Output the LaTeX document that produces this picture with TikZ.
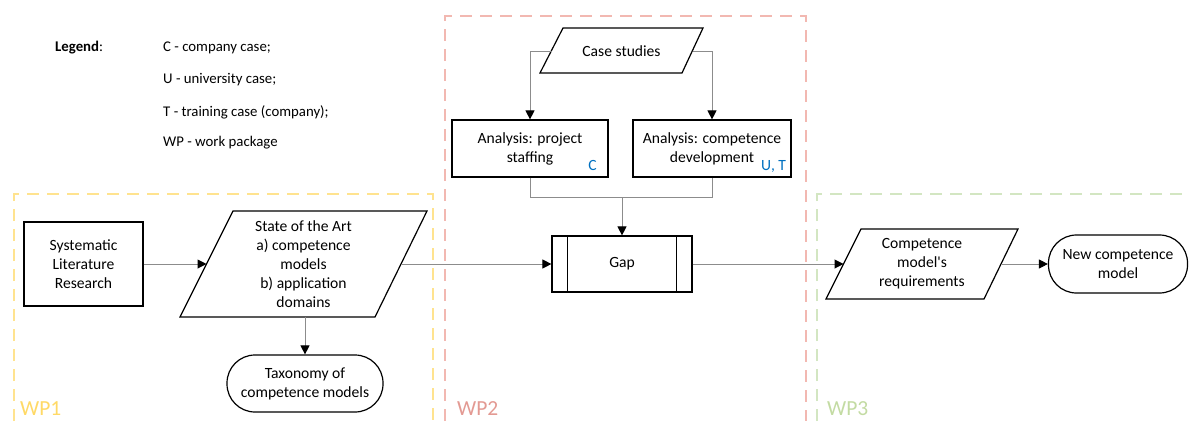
\documentclass[tikz,border=0pt]{standalone}
\usepackage{fontspec}
\setmainfont{Carlito}[Ligatures=TeXOff]
\usetikzlibrary{arrows.meta,calc}
\definecolor{wpone}{HTML}{FFE38F}
\definecolor{wponet}{HTML}{FFD966}
\definecolor{wptwo}{HTML}{F2B8B1}
\definecolor{wptwot}{HTML}{E39A93}
\definecolor{wpthree}{HTML}{D3E6C2}
\definecolor{wpthreet}{HTML}{C3DBA3}
\definecolor{lblblue}{HTML}{0070C0}
\definecolor{conn}{HTML}{8C8C8C}
\tikzset{
  txt/.style={font=\fontsize{15.6}{19}\selectfont, align=center, inner sep=0pt},
  procbox/.style={txt, draw=black, line width=1.2pt, rectangle},
  termbox/.style={txt, draw=black, line width=1.2pt, rectangle, rounded corners=28pt},
  parashape/.style={draw=black, line width=1.2pt, line join=miter},
  conline/.style={draw=conn, line width=1pt},
  conarrow/.style={conline, -{Triangle[length=9pt,width=9pt,color=black,fill=black]}},
  wpbox/.style={line width=1.5pt, dash pattern=on 12pt off 8pt},
  wplabel/.style={font=\fontsize{21.5}{24}\selectfont, inner sep=0pt, anchor=base west},
  legtxt/.style={font=\fontsize{14.8}{18}\selectfont, inner sep=0pt, anchor=west},
  bluelbl/.style={font=\fontsize{15.6}{19}\selectfont, text=lblblue, inner sep=0pt, anchor=base}
}
\begin{document}
\begin{tikzpicture}[x=1pt,y=-1pt]
\useasboundingbox (0,0) rectangle (1189,421);
% work package frames
\draw[wpbox, draw=wpone] (14,421) -- (14,194) -- (433,194) -- (433,421);
\draw[wpbox, draw=wptwo] (445,421) -- (445,16) -- (806,16) -- (806,421);
\draw[wpbox, draw=wpthree] (817,421) -- (817,194) -- (1189,194);
\node[wplabel, text=wponet] (wp1) at (20,415) {WP1};
\node[wplabel, text=wptwot] (wp2) at (457,415) {WP2};
\node[wplabel, text=wpthreet] (wp3) at (827,415) {WP3};
% legend
\node[legtxt] (leg) at (55,48) {\textbf{Legend}:};
\node[legtxt] (lc) at (163,48) {C - company case;};
\node[legtxt] (lu) at (163,80) {U - university case;};
\node[legtxt] (lt) at (163,112) {T - training case (company);};
\node[legtxt] (lw) at (163,143) {WP - work package};
% case studies (parallelogram)
\draw[parashape] (563,28) -- (703,28) -- (682,73) -- (540,73) -- cycle;
\node[txt] (cs) at (621.5,51) {Case studies};
\coordinate (csw) at (551.5,51);
\coordinate (cse) at (692.5,51);
% analysis boxes
\node[procbox, minimum width=156pt, minimum height=57pt] (ana1) at (530,148.5) {Analysis: project\\staffing};
\node[procbox, minimum width=158pt, minimum height=57pt] (ana2) at (712,148.5) {Analysis: competence\\development};
\node[bluelbl] (lblc) at ($(ana1.south east)+(-16,-7)$) {C};
\node[bluelbl] (lblut) at ($(ana2.south east)+(-18,-7)$) {U, T};
% gap
\node[procbox, minimum width=140pt, minimum height=56pt] (gap) at (622,264) {Gap};
\draw[line width=1.2pt] ([xshift=16pt]gap.north west) -- ([xshift=16pt]gap.south west);
\draw[line width=1.2pt] ([xshift=-16pt]gap.north east) -- ([xshift=-16pt]gap.south east);
\coordinate (junc) at (622,197);
% WP1 nodes
\node[procbox, minimum width=119pt, minimum height=84pt] (slr) at (83.5,264) {Systematic\\Literature\\Research};
\draw[parashape] (233,211) -- (427,211) -- (375,317) -- (180,317) -- cycle;
\node[txt] (soa) at (303.5,264) {State of the Art\\a) competence\\models\\b) application\\domains};
\coordinate (soaw) at (206.5,264);
\coordinate (soae) at (401.5,264);
\coordinate (soas) at (305,317);
\node[termbox, minimum width=156pt, minimum height=57pt] (tax) at (305,383.5) {Taxonomy of\\competence models};
% WP3 nodes
\draw[parashape] (861,229) -- (1018,229) -- (984,299) -- (826,299) -- cycle;
\node[txt] (cmr) at (922,264) {Competence\\model's\\requirements};
\coordinate (cmrw) at (843.5,264);
\coordinate (cmre) at (1001,264);
\node[termbox, minimum width=139pt, minimum height=58pt] (newm) at (1118,264) {New competence\\model};
% connectors
\draw[conarrow] (csw) -| (ana1.north);
\draw[conarrow] (cse) -| (ana2.north);
\draw[conline] (ana1.south) -- ++(0,20) -| (ana2.south);
\draw[conarrow] (junc) -- (gap.north);
\draw[conarrow] (slr.east) -- (soaw);
\draw[conarrow] (soae) -- (gap.west);
\draw[conarrow] (soas) -- (tax.north);
\draw[conarrow] (gap.east) -- (cmrw);
\draw[conarrow] (cmre) -- (newm.west);
\end{tikzpicture}
\end{document}
